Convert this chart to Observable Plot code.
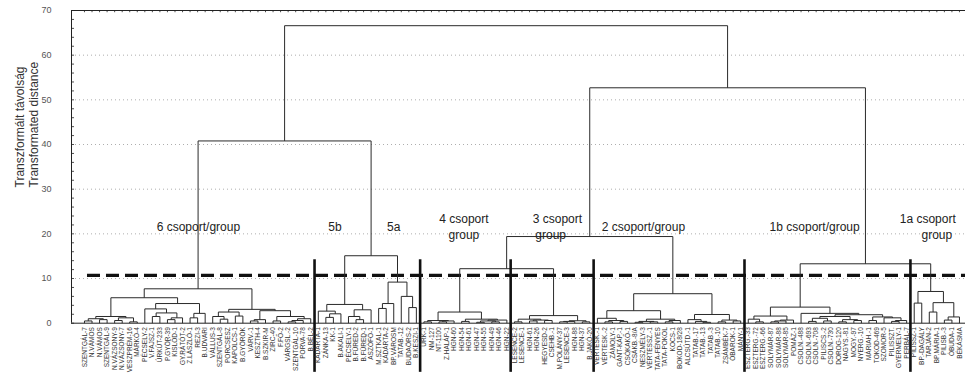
<!DOCTYPE html>
<html><head><meta charset="utf-8">
<script src="https://cdn.jsdelivr.net/npm/d3@7"></script>
<script src="https://cdn.jsdelivr.net/npm/@observablehq/plot@0.6"></script>
<style>html,body{margin:0;padding:0;background:#fff;overflow:hidden}</style>
</head><body><div id="chart"></div>
<script>
// ---- leaf labels (left to right) ----
const leafLabels = [
"SZENTGÁL-7","N.VÁMOS","N.VÁMOS","SZENTGÁL-9","N.VÁZSONY-9","N.VÁZSONY-7","VESZPRÉM-16","MÁRKÓ-4",
"PÉCSELY-2","V.FAJSZ-1","ÚRKÚT-233","P.GYÖR-39","KISLŐD-1","GY.RÁTÓT-2","Z.LÁSZLÓ-1","REZI-3",
"B.UDVARI","VÁLLUS-3","SZENTGÁL-8","PORCSESZ","KAPOLCS-1","B.GYÖRÖK","VÁRV.-1","KESZTH-4",
"B.SZKIR-M","ZIRC-40","F.FŐ-2","VÁRGSL.-2","SZENTGÁL-10","PORVA-78","B.BÉL-2",
"KÁDÁRTA-1","ZÁNKA-13","KK-1","B.AKALI-1","PÉCSELY-1","B.FÜRED-2","B.FÜRED-1","ASZÓFŐ-1",
"M.SZTKAL-1","KÁDÁRTA-2","BP.VÁROSM","TATAB.-12","BUDAÖRS-2","B.KESZI-1",
"ÚRK-1","NM-127","NT-1100","Z.HALÁP-1","HGN-60","HGN-54","HGN-61","HGN-47","HGN-55","HGN-49","HGN-46","HGN-22",
"LESENCE-2","LESENCE-1","HGN-61","HGN-26","HEGYESD-2","CSEHB.-1","M.POLÁNY-37","LESENCE-3","HGN-88","HGN-37","B.JAKÓ-20",
"VÉRTESK.-1","VÉRTESK.-2","ZÁMOLY-1","GÁNT-KÁP.-1","CSÓKAKŐ-1","CSÁKB.-8/A","NESZMÉLY-3","VÉRTESSZ.-1",
"TATA-FÉNYES","TATA-POKOL","KOCS-1","BOKOD-18/28","ALCSÚTD.-1","TATAB.-17","TATAB.-13","TATAB.-3","TATAB.-10",
"ZSÁMBÉK-7","ÓBAROK-1","MÁNY-1",
"ESZTERG.-33","ESZTERG.-72","ESZTERG.-66","SOLYMÁR-87","SOLYMÁR-88","SOLYMÁR-85","POMÁZ-1","CSOLN.-488",
"CSOLN.-693","CSOLN.-708","PILISCS.-2","CSOLN.-730","DOROG-120","NAGYS.-81","MOGY.-97","NYERG.-10",
"MÁRIAH.-1","TOKOD-469","SZOMOR-5","PILISSZT.","GYERMELY-1","PERBÁL-7",
"PILISSZ-1","BP.-DAGÁLY","TARJÁN-2","BP.MÁRIA-1","PILISB.-3","ÓBUDA-1","BÉKÁSMA"
];

// ---- cluster merges: [left, right, distance]; numbers are leaf indices ----
const group6Tree = [
  [[[[0,1,0.5],[2,3,0.8],1.0],[[4,5,0.6],[6,7,0.3],1.2],1.5],
   [[8,[[9,10,1.5],[[11,12,0.8],13,1.2],2.3],3.2],[[14,15,1.2],16,2.2],4.4],5.7],
  [[[17,[18,19,0.9],1.5],[20,21,1.6],2.5],
   [[[22,23,0.5],24,0.8],[[25,26,0.5],[[[27,28,0.3],29,0.6],30,1.0],1.5],2.8],3.1],
  7.7];
const group5bTree = [[31,[[32,33,1.3],34,2.1],2.7],[[35,[36,37,0.8],1.5],38,3.0],4.2];
const group5aTree = [[[39,40,3.3],41,4.4],[42,[43,44,3.5],6.0],9.2];
const group4Tree = [[[45,46,0.3],[[47,48,0.3],49,0.5],0.6],
                    [[50,51,0.4],[[[52,53,0.2],[54,55,0.3],0.5],56,0.7],0.9],2.5];
const group3Tree = [[[57,58,0.3],[[59,60,0.5],[61,62,0.6],0.7],0.9],
                    [[[63,64,0.3],65,0.4],[66,67,0.3],0.55],1.7];
const group2Tree = [[[68,[[69,70,0.3],[71,72,0.4],0.6],1.1],
                     [[[73,74,0.2],[75,76,0.3],0.4],[[77,78,0.3],79,0.6],0.9],2.8],
                    [[80,[81,[82,83,0.2],0.4],0.8],[[84,85,0.3],[86,87,0.5],0.7],1.95],6.6];
const group1bTree = [[[88,[89,90,0.3],0.9],[[[91,92,0.3],93,0.5],94,0.7],1.6],
                     [95,[[[[96,97,0.4],[98,99,0.5],1.1],[[100,101,0.3],[102,103,0.6],0.8],1.5],
                          [[104,105,0.6],[106,[[107,108,0.4],109,0.6],1.2],1.4],1.9],2.2],3.6];
const group1aTree = [[110,111,4.5],[[112,113,2.5],[[114,115,0.7],116,1.4],4.6],7.1];

// upper-level joins
const group5Height = 15.1, leftHeight = 40.8, group34Height = 12.2, group234Height = 19.4,
      group1Height = 13.3, rightHeight = 52.7, rootHeight = 66.6;

// group boundaries (between leaf indices) and cut level
const groupBoundaries = [30.5, 44.5, 56.5, 67.5, 87.5, 109.5];
const cutLevel = 10.7;

// group label texts, anchored at leaf index / distance
const groupLabelText = ["6 csoport/group","5b","5a","4 csoport","group","3 csoport","group",
                        "2 csoport/group","1b csoport/group","1a csoport","group"];
const groupLabelLeaf = [15.1, 33.2, 41.0, 50.3, 50.3, 62.7, 61.8, 74.1, 96.8, 111.8, 113.0];
const groupLabelDist = [21.6, 21.6, 21.6, 23.2, 19.6, 23.2, 19.6, 21.6, 21.6, 23.2, 19.6];

const yTicks = [0,10,20,30,40,50,60,70];
const yMinorTicks = d3.range(0, 71, 2);

// ---- build tree ----
const leftTree = [group6Tree, [group5bTree, group5aTree, group5Height], leftHeight];
const rightTree = [[[group4Tree, group3Tree, group34Height], group2Tree, group234Height],
                   [group1bTree, group1aTree, group1Height], rightHeight];
const rootTree = [leftTree, rightTree, rootHeight];

const segs = [];
function layout(node) {
  if (typeof node === "number") return {x: node, h: 0};
  const [a, b, h] = node;
  const L = layout(a), R = layout(b);
  segs.push({x1: L.x, y1: L.h, x2: L.x, y2: h});
  segs.push({x1: R.x, y1: R.h, x2: R.x, y2: h});
  segs.push({x1: L.x, y1: h, x2: R.x, y2: h});
  return {x: (L.x + R.x) / 2, h};
}
layout(rootTree);

const groupLabels = groupLabelText.map((t, i) => ({t, x: groupLabelLeaf[i], y: groupLabelDist[i]}));

const xDomain = [-1.72, 116.8];
const font = "'Liberation Sans', Arial, Helvetica, sans-serif";

const chart = Plot.plot({
  width: 965, height: 376,
  marginLeft: 71, marginRight: 0, marginTop: 10, marginBottom: 53.3,
  x: {domain: xDomain, axis: null},
  y: {domain: [0, 70], ticks: yTicks, tickSize: 0, tickPadding: 20, label: null},
  style: {fontFamily: font, fontSize: "9px", color: "#555", background: "#fff"},
  marks: [
    Plot.ruleY(yTicks.filter(d => d > 0 && d < 70), {stroke: "#999", strokeDasharray: "1,3", strokeWidth: 0.8}),
    Plot.ruleY([70], {stroke: "#222", strokeWidth: 1}),
    Plot.ruleY([0], {stroke: "#222", strokeWidth: 1}),
    Plot.ruleX([xDomain[0]], {stroke: "#222", strokeWidth: 1}),
    Plot.ruleY(yMinorTicks, {x1: xDomain[0], x2: xDomain[0] + 0.4, stroke: "#222", strokeWidth: 0.8}),
    Plot.ruleX(d3.range(leafLabels.length), {y1: 70, y2: 69.5, stroke: "#222", strokeWidth: 0.8}),
    Plot.ruleY([cutLevel], {x1: 0.4, x2: xDomain[1], stroke: "#111", strokeWidth: 3.3, strokeDasharray: "13,6"}),
    Plot.link(segs, {x1: "x1", y1: "y1", x2: "x2", y2: "y2", stroke: "#2a2a2a", strokeWidth: 1}),
    Plot.ruleX(groupBoundaries, {y1: 14.2, y2: -11, stroke: "#111", strokeWidth: 2.6}),
    Plot.text(leafLabels, {x: (d, i) => i, y: 0, text: d => d, rotate: -90, textAnchor: "end",
      dy: 4, fontSize: 6.5, fill: "#333"}),
    Plot.text(groupLabels, {x: "x", y: "y", text: "t", fontSize: 12, fill: "#222"}),
    Plot.text(["Transzformált távolság"], {text: d => d, frameAnchor: "left", rotate: -90,
      dx: -51, dy: 20.6, fontSize: 12, fill: "#333"}),
    Plot.text(["Transformated distance"], {text: d => d, frameAnchor: "left", rotate: -90,
      dx: -37, dy: 20.6, fontSize: 12, fill: "#333"})
  ]
});
document.getElementById("chart").appendChild(chart);
</script>
</body></html>
